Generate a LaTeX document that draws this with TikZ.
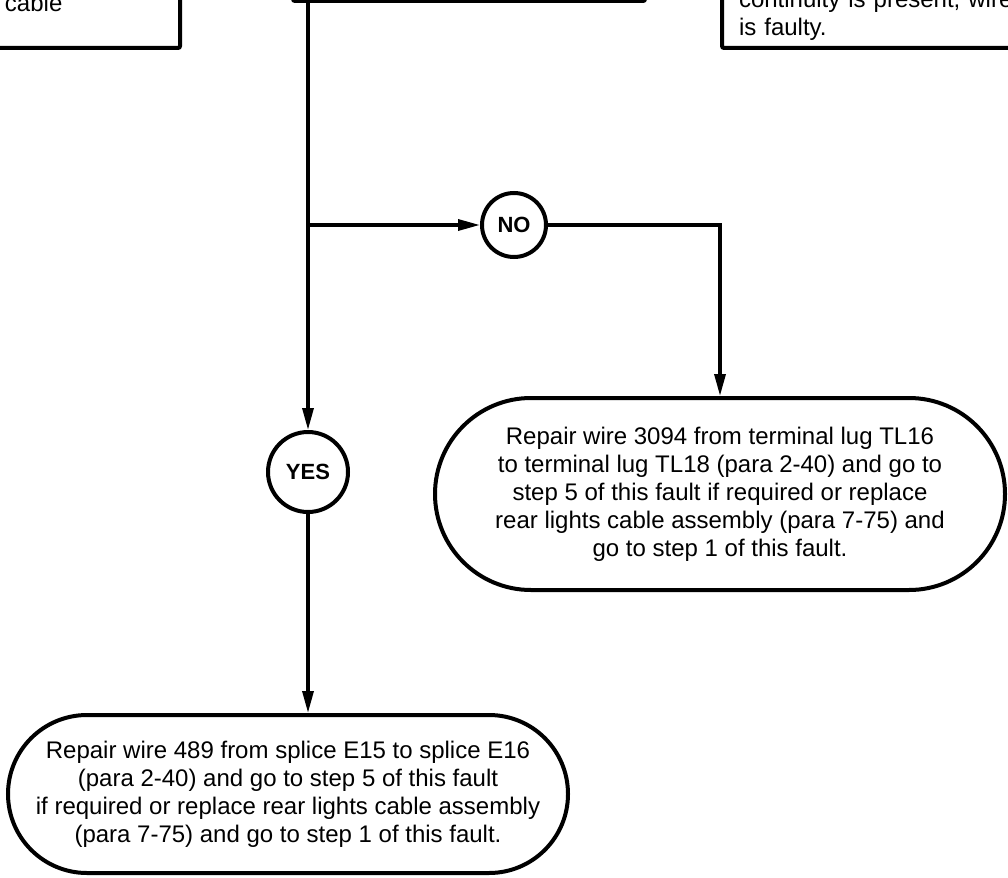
\documentclass[tikz,border=0pt]{standalone}
\usepackage{fontspec}
\setmainfont{Liberation Sans}
\usetikzlibrary{arrows.meta,positioning,shapes.misc,calc}

\begin{document}
\begin{tikzpicture}[
    x=1pt, y=-1pt,
    font=\fontsize{24}{28}\selectfont,
    topbox/.style={draw, rectangle, line width=4pt, rounded corners=2pt, align=left},
    answer/.style={draw, circle, line width=4pt, minimum size=64pt, inner sep=0pt, font=\fontsize{22}{26}\selectfont\bfseries},
    action/.style={draw, rounded rectangle, line width=4pt, align=center, inner sep=0pt},
    arrow/.style={-{Triangle[length=22pt, width=11pt]}, line width=3.3pt}
]
    \useasboundingbox (0,0) rectangle (1008,877);
    \clip (0,0) rectangle (1008,877);

    % Recuadros de arriba (cortados por el borde)
    \node[topbox, anchor=south east, text width=158pt, inner xsep=17pt, inner ysep=36pt] (cablebox) at (182,50) {cable};
    \node[topbox, anchor=south west, minimum width=352pt, minimum height=80pt] (checkbox) at (291,3) {};
    \node[topbox, anchor=south west, text width=320pt, inner xsep=17pt, inner ysep=8pt] (faultybox) at (720,50) {continuity is present, wire\\is faulty.};

    \coordinate (trunk) at ([xshift=17pt]checkbox.south west);

    \node[answer] (no) at (514,225) {NO};
    \node[answer, minimum size=80pt] (yes) at (trunk |- 0,472) {YES};

    \node[action, minimum width=570pt, minimum height=192pt] (fix3094) at (720,494) {Repair wire 3094 from terminal lug TL16\\to terminal lug TL18 (para 2-40) and go to\\step 5 of this fault if required or replace\\rear lights cable assembly (para 7-75) and\\go to step 1 of this fault.};
    \node[action, minimum width=560pt, minimum height=158pt] (fix489) at (288,794) {Repair wire 489 from splice E15 to splice E16\\(para 2-40) and go to step 5 of this fault\\if required or replace rear lights cable assembly\\(para 7-75) and go to step 1 of this fault.};

    \draw[arrow] (trunk) -- (yes);
    \draw[arrow] (trunk |- no) -- (no);
    \draw[arrow] (no) -| (fix3094);
    \draw[arrow] (yes) -- (yes |- fix489.north);
\end{tikzpicture}
\end{document}
